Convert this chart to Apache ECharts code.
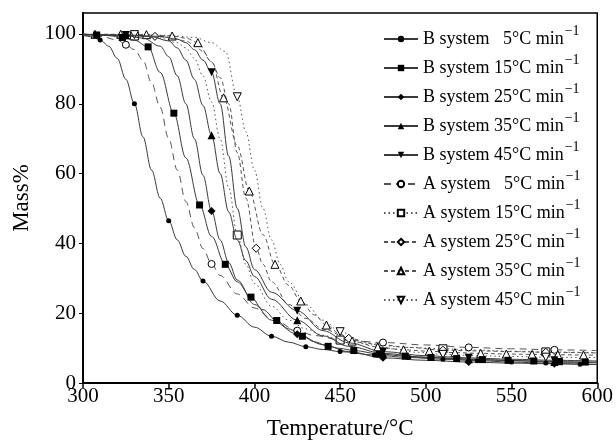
<!DOCTYPE html>
<html>
<head>
<meta charset="utf-8">
<script src="https://cdn.jsdelivr.net/npm/echarts@6/dist/echarts.min.js"></script>
<style>
  html, body { margin: 0; padding: 0; background: #fff; }
  #main { width: 616px; height: 445px; }
</style>
</head>
<body>
<div id="main"></div>
<script>
// B system curves
var b5T = [300, 305, 310, 315, 320, 325, 330, 335, 340, 345, 350, 355, 360, 365, 370, 380, 390, 400, 410, 420, 430, 440, 450, 470, 490, 510, 530, 550, 570, 590, 600];
var b5M = [99.6, 99.2, 98.3, 96.5, 93, 87, 80, 70.5, 61, 53, 46.5, 41, 36.3, 32.5, 29.2, 23.5, 19.4, 16, 13.4, 11.7, 10.4, 9.6, 9.0, 8.0, 7.3, 6.8, 6.4, 6.0, 5.7, 5.4, 5.3];
var b5Marks = [310, 330, 350, 370, 390, 410, 430, 450, 470, 490, 510, 530, 550, 570, 590];

var b15T = [300, 308, 315, 323, 330, 338, 345, 353, 360, 368, 375, 383, 390, 398, 405, 413, 420, 428, 435, 443, 450, 458, 473, 488, 503, 518, 533, 548, 563, 578, 593, 600];
var b15M = [99.9, 99.7, 99.5, 99.0, 98.2, 96.3, 89, 77.3, 64.5, 51, 42, 34, 29, 24.6, 21, 17.9, 15.5, 13.4, 11.8, 10.5, 9.9, 9.3, 8.3, 7.7, 7.3, 7.0, 6.7, 6.5, 6.3, 6.1, 6.0, 6.0];
var b15Marks = [308, 323, 338, 353, 368, 383, 398, 413, 428, 443, 458, 473, 488, 503, 518, 533, 548, 563, 578, 593];

var b25T = [300, 325, 335, 345, 350, 355, 360, 365, 370, 375, 380, 385, 390, 400, 410, 425, 440, 455, 475, 500, 525, 550, 575, 600];
var b25M = [99.8, 99.5, 98.8, 96.5, 93.5, 88, 80, 70, 59.5, 49.3, 41, 34.5, 29.5, 22.5, 18, 14, 11, 9, 7.2, 6.5, 6.0, 5.7, 5.5, 5.3];
var b25Marks = [325, 375, 425, 475, 525, 575];

var b35T = [300, 325, 340, 350, 355, 360, 365, 370, 375, 380, 385, 390, 395, 400, 410, 425, 440, 455, 475, 500, 525, 550, 575, 600];
var b35M = [99.9, 99.6, 99.2, 98, 96, 92.5, 87, 79.5, 71, 60, 49, 41, 35, 30.5, 24, 18, 13.5, 10.5, 8.5, 7.3, 6.8, 6.4, 6.0, 5.8];
var b35Marks = [325, 375, 425, 475, 525, 575];

var b45T = [300, 325, 345, 355, 360, 365, 370, 375, 380, 385, 390, 395, 400, 410, 425, 440, 455, 475, 500, 525, 550, 575, 600];
var b45M = [99.9, 99.7, 99.3, 98.5, 97.5, 95.5, 92.5, 89, 80, 65, 50, 39, 32.5, 26, 20.7, 15, 11.5, 9, 7.8, 7.2, 6.8, 6.5, 6.3];
var b45Marks = [325, 375, 425, 475, 525, 575];

// A system curves
var a5T = [300, 310, 320, 325, 330, 335, 340, 345, 350, 355, 360, 365, 370, 375, 380, 390, 400, 410, 425, 435, 450, 475, 500, 525, 550, 575, 600];
var a5M = [99.7, 99.3, 98.3, 96.9, 95.5, 92.5, 86, 79, 70, 61, 52, 44.5, 38.5, 34.1, 30.8, 25.5, 21.5, 18.5, 15, 13.6, 12.4, 11.6, 10.9, 10.2, 9.8, 9.5, 9.3];
var a5Marks = [325, 375, 425, 475, 525, 575];

var a15T = [300, 315, 330, 345, 355, 360, 365, 370, 375, 380, 385, 390, 395, 400, 410, 420, 430, 440, 450, 470, 490, 510, 530, 550, 570, 590, 600];
var a15M = [99.9, 99.7, 99.4, 98.8, 97.5, 96, 93, 88, 80.5, 70, 56, 42.4, 34, 28.5, 22, 18, 15.5, 13.7, 12.3, 10.9, 10.2, 9.8, 9.4, 9.1, 8.9, 8.8, 8.7];
var a15Marks = [330, 390, 450, 510, 570];

var a25T = [300, 330, 342, 350, 360, 365, 370, 375, 380, 385, 390, 395, 401, 405, 410, 420, 430, 440, 455, 470, 490, 510, 530, 550, 570, 600];
var a25M = [99.9, 99.6, 99.3, 99.0, 98, 96.8, 95, 92, 87.5, 80, 66, 53, 38.6, 34, 29, 22.5, 18.5, 15.5, 12.8, 11.2, 10.2, 9.4, 9.2, 9.0, 8.8, 8.6];
var a25Marks = [342, 401, 455, 510, 570];

var a35T = [300, 307, 322, 337, 352, 360, 367, 375, 382, 390, 397, 405, 412, 420, 427, 435, 442, 450, 457, 472, 487, 502, 517, 532, 547, 562, 577, 592, 600];
var a35M = [99.9, 99.9, 99.9, 99.8, 99.4, 98.8, 97.5, 92, 81.7, 68, 55, 42.5, 34, 28, 23.5, 19.5, 16.6, 14, 12, 10.3, 9.5, 9.1, 8.7, 8.5, 8.3, 8.2, 8.1, 8.0, 8.0];
var a35Marks = [307, 322, 337, 352, 367, 382, 397, 412, 427, 442, 457, 472, 487, 502, 517, 532, 547, 562, 577, 592];

var a45T = [300, 330, 350, 365, 375, 383, 390, 395, 400, 405, 410, 415, 420, 430, 440, 450, 465, 480, 495, 510, 530, 550, 570, 590, 600];
var a45M = [99.9, 99.8, 99.6, 99, 97.5, 95, 82, 72, 61, 50, 41, 34, 29, 22.5, 18, 14.7, 11.5, 9.8, 8.8, 8.2, 7.8, 7.6, 7.4, 7.3, 7.3];
var a45Marks = [330, 390, 450, 510, 570];

var xTicks = [300, 350, 400, 450, 500, 550, 600];
var yTicks = [0, 20, 40, 60, 80, 100];

var serif = 'Liberation Serif';
var chart = echarts.init(document.getElementById('main'));

function pairs(T, M) {
  return T.map(function (t, i) { return [t, M[i]]; });
}

function makeSeries(name, T, M, marks, symbol, size, filled, dash, rotate) {
  return {
    name: name,
    type: 'line',
    data: pairs(T, M),
    smooth: 0.35,
    smoothMonotone: 'x',
    showSymbol: true,
    showAllSymbol: true,
    symbol: symbol,
    symbolRotate: rotate || 0,
    symbolSize: function (v) {
      return marks.indexOf(v[0]) >= 0 ? size : 0;
    },
    lineStyle: { color: filled ? '#3a3a3a' : '#555', width: 1, type: dash },
    itemStyle: {
      color: filled ? '#000' : '#fff',
      borderColor: '#000',
      borderWidth: filled ? 0 : 1
    },
    emphasis: { disabled: true },
    animation: false,
    z: filled ? 3 : 2
  };
}

var series = [
  makeSeries('B system 5°C min-1', b5T, b5M, b5Marks, 'circle', 5, true, 'solid'),
  makeSeries('B system 15°C min-1', b15T, b15M, b15Marks, 'rect', 7, true, 'solid'),
  makeSeries('B system 25°C min-1', b25T, b25M, b25Marks, 'diamond', 8, true, 'solid'),
  makeSeries('B system 35°C min-1', b35T, b35M, b35Marks, 'triangle', 8, true, 'solid'),
  makeSeries('B system 45°C min-1', b45T, b45M, b45Marks, 'triangle', 8, true, 'solid', 180),
  makeSeries('A system 5°C min-1', a5T, a5M, a5Marks, 'circle', 7, false, [7, 5]),
  makeSeries('A system 15°C min-1', a15T, a15M, a15Marks, 'rect', 8, false, [1.5, 3]),
  makeSeries('A system 25°C min-1', a25T, a25M, a25Marks, 'diamond', 8, false, [4, 3]),
  makeSeries('A system 35°C min-1', a35T, a35M, a35Marks, 'triangle', 8, false, [4, 3]),
  makeSeries('A system 45°C min-1', a45T, a45M, a45Marks, 'triangle', 8, false, [1.5, 3], 180)
];

chart.setOption({
  backgroundColor: '#fff',
  animation: false,
  grid: {
    left: 83, right: 16, top: 13, bottom: 59,
    show: true, borderColor: '#000', borderWidth: 1.5
  },
  legend: {
    orient: 'vertical',
    left: 383,
    top: 24,
    padding: 0,
    itemWidth: 34,
    itemHeight: 8,
    itemGap: -1,
    selectedMode: false,
    data: series.map(function (s) { return s.name; }),
    formatter: function (name) {
      var m = name.match(/^(\w) system (\d+)°C min-1$/);
      var pad = m[2].length < 2 ? '   ' : ' ';
      return '{a|' + m[1] + ' system' + pad + m[2] + '°C min}{s|−1}';
    },
    textStyle: {
      fontFamily: serif, fontSize: 18, color: '#000',
      rich: {
        a: { fontFamily: serif, fontSize: 18, lineHeight: 22, color: '#000' },
        s: { fontFamily: serif, fontSize: 14, lineHeight: 22, padding: [0, 0, 16, 1], color: '#000' }
      }
    }
  },
  xAxis: {
    type: 'value',
    min: xTicks[0],
    max: xTicks[xTicks.length - 1],
    interval: xTicks[1] - xTicks[0],
    name: 'Temperature/°C',
    nameLocation: 'middle',
    nameGap: 34,
    nameTextStyle: { fontFamily: serif, fontSize: 23, color: '#000' },
    axisLine: { lineStyle: { color: '#000', width: 2 } },
    axisTick: { show: true, inside: false, length: 5, lineStyle: { color: '#000', width: 1.5 } },
    axisLabel: { fontFamily: serif, fontSize: 21, color: '#000', margin: 3 },
    splitLine: { show: false }
  },
  yAxis: {
    type: 'value',
    min: yTicks[0],
    max: 106,
    interval: yTicks[1] - yTicks[0],
    name: 'Mass%',
    nameLocation: 'middle',
    nameGap: 48,
    nameTextStyle: { fontFamily: serif, fontSize: 23, color: '#000' },
    axisLine: { lineStyle: { color: '#000', width: 2 } },
    axisTick: { show: true, inside: false, length: 4, lineStyle: { color: '#000', width: 1 } },
    axisLabel: {
      fontFamily: serif, fontSize: 21, color: '#000', margin: 7,
      showMaxLabel: false,
      formatter: function (v) { return yTicks.indexOf(v) >= 0 ? String(v) : ''; }
    },
    splitLine: { show: false }
  },
  series: series
});
</script>
</body>
</html>
